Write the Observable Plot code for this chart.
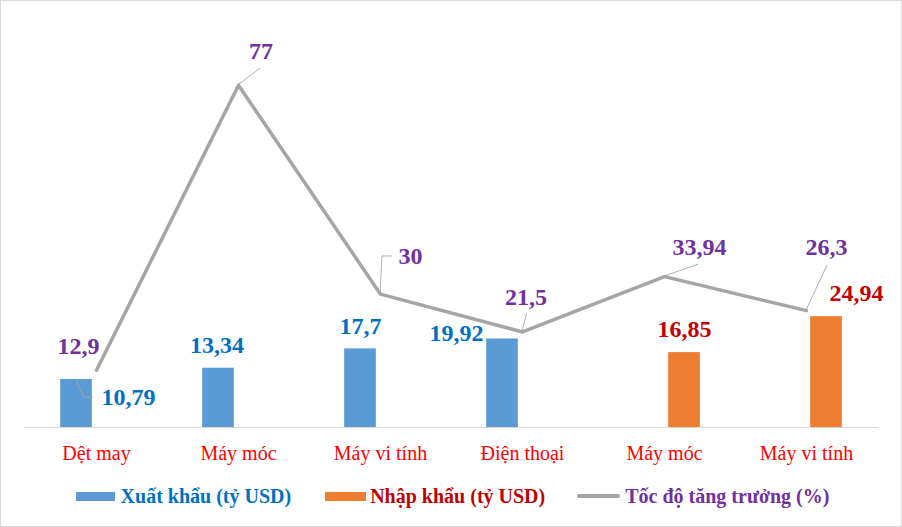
<!DOCTYPE html>
<html>
<head>
<meta charset="utf-8">
<script src="https://cdn.jsdelivr.net/npm/d3@7"></script>
<script src="https://cdn.jsdelivr.net/npm/@observablehq/plot@0.6"></script>
<style>
  body { margin: 0; background: #fff; }
  #chart { width: 900px; height: 525px; border: 1px solid #d9d9d9; font-family: "Liberation Serif", Tinos, "Times New Roman", "DejaVu Serif", serif; overflow: hidden; }
  #chart svg { display: block; }
  .legend { display: flex; justify-content: center; align-items: center; margin-top: 17px; height: 24px; line-height: 24px; font-weight: bold; font-size: 20px; padding-left: 3px; }
  .legend .item { display: flex; align-items: center; }
  .legend .sw { display: inline-block; }
</style>
</head>
<body>
<div id="chart"></div>
<script>
// ---- data ----
const categories = ["Dệt may", "Máy móc", "Máy vi tính", "Điện thoại", "Máy móc", "Máy vi tính"];
const exportValues = [10.79, 13.34, 17.7, 19.92, null, null];
const importValues = [null, null, null, null, 16.85, 24.94];
const growthValues = [12.9, 77, 30, 21.5, 33.94, 26.3];
const seriesNames = ["Xuất khẩu (tỷ USD)", "Nhập khẩu (tỷ USD)", "Tốc độ tăng trưởng (%)"];
const yDomain = [0, 90];

// ---- layout / style (not data) ----
const FONT = '"Liberation Serif", Tinos, "Times New Roman", "DejaVu Serif", serif';
const colors = { exp: "#5b9bd5", imp: "#ed7d31", line: "#a5a5a5" };
const textColors = { exp: "#0070c0", imp: "#c00000", line: "#7030a0", cat: "#ff0000" };
const W = 900, H = 466, mL = 23, mR = 23, mT = 26, mB = 40;
const BAR_W = 32, BAR_OFF = 20;
const bw = (W - mL - mR) / categories.length;
// label offsets [dx, dy] in px from the data point
const expLabelOff = [[52, 18], [-1.6, -22.4], [0, -23], [-46, -6], null, null];
const impLabelOff = [null, null, null, null, [0, -22.8], [30, -23]];
const growthLabelOff = [[-18, -24], [22.4, -33.5], [30, -37.4], [3.6, -35], [35, -29], [20, -63]];
// leader line vertices (px offsets from data point)
const leaders = [
  { series: "exp", i: 0, pts: [[0, 1], [8, 18], [17, 18]] },
  { series: "g", i: 1, pts: [[0, 0], [22.4, -16.8]] },
  { series: "g", i: 2, pts: [[0, 0], [2, -37.7], [12, -37.7]] },
  { series: "g", i: 3, pts: [[0, 0], [4.6, -18.4]] },
  { series: "g", i: 4, pts: [[0, 0], [34, -12]] },
  { series: "g", i: 5, pts: [[0, 0], [21, -45]] }
];

const rows = categories.map((c, i) => ({ i, cat: c, exp: exportValues[i], imp: importValues[i], g: growthValues[i] }));
const fmt = v => String(v).replace(".", ",");

const marks = [];
marks.push(Plot.ruleY([0], { stroke: "#d9d9d9", strokeWidth: 1.2 }));
marks.push(Plot.barY(rows.filter(d => d.exp != null), {
  x: "i", y: "exp", fill: colors.exp,
  insetLeft: bw / 2 - BAR_OFF - BAR_W / 2, insetRight: bw / 2 + BAR_OFF - BAR_W / 2
}));
marks.push(Plot.barY(rows.filter(d => d.imp != null), {
  x: "i", y: "imp", fill: colors.imp,
  insetLeft: bw / 2 + BAR_OFF - BAR_W / 2, insetRight: bw / 2 - BAR_OFF - BAR_W / 2
}));

// leader lines via the library's scales
marks.push((index, scales) => {
  const g = d3.create("svg:g").attr("fill", "none").attr("stroke", "#a6a6a6").attr("stroke-width", 0.9);
  const band = scales.x.bandwidth ? scales.x.bandwidth() : 0;
  for (const L of leaders) {
    const d = rows[L.i];
    const shift = L.series === "exp" ? -BAR_OFF : L.series === "imp" ? BAR_OFF : 0;
    const x0 = scales.x(d.i) + band / 2 + shift;
    const y0 = scales.y(d[L.series]);
    g.append("polyline").attr("points", L.pts.map(([dx, dy]) => `${x0 + dx},${y0 + dy}`).join(" "));
  }
  return g.node();
});

marks.push(Plot.line(rows, { x: "i", y: "g", stroke: colors.line, strokeWidth: 3.5, strokeLinejoin: "round" }));

const labelFont = { fontSize: 24, fontWeight: "bold", lineAnchor: "middle", fontFamily: FONT };
rows.forEach((d, k) => {
  if (d.exp != null) {
    const [dx, dy] = expLabelOff[k];
    marks.push(Plot.text([d], { x: "i", y: "exp", text: r => fmt(r.exp), dx: dx - BAR_OFF, dy, fill: textColors.exp, ...labelFont }));
  }
  if (d.imp != null) {
    const [dx, dy] = impLabelOff[k];
    marks.push(Plot.text([d], { x: "i", y: "imp", text: r => fmt(r.imp), dx: dx + BAR_OFF, dy, fill: textColors.imp, ...labelFont }));
  }
  const [gx, gy] = growthLabelOff[k];
  marks.push(Plot.text([d], { x: "i", y: "g", text: r => fmt(r.g), dx: gx, dy: gy, fill: textColors.line, ...labelFont }));
});

marks.push(Plot.text(rows, { x: "i", text: "cat", frameAnchor: "bottom", dy: 26, fill: textColors.cat, fontSize: 20, lineAnchor: "middle", fontFamily: FONT }));

const svg = Plot.plot({
  width: W, height: H,
  marginLeft: mL, marginRight: mR, marginTop: mT, marginBottom: mB,
  x: { type: "band", domain: d3.range(categories.length), padding: 0, axis: null },
  y: { domain: yDomain, axis: null },
  style: { fontFamily: FONT, background: "transparent", overflow: "visible" },
  marks
});
const chart = document.getElementById("chart");
chart.appendChild(svg);

// legend
const legend = document.createElement("div");
legend.className = "legend";
const legendSpec = [
  { name: seriesNames[0], sw: { w: 39, h: 9, c: colors.exp }, tc: textColors.exp, gap: 6, after: 34 },
  { name: seriesNames[1], sw: { w: 41, h: 9, c: colors.imp }, tc: textColors.imp, gap: 4, after: 32 },
  { name: seriesNames[2], sw: { w: 43, h: 4, c: colors.line }, tc: textColors.line, gap: 5, after: 0 }
];
for (const s of legendSpec) {
  const item = document.createElement("span");
  item.className = "item";
  item.style.marginRight = s.after + "px";
  const sw = document.createElement("span");
  sw.className = "sw";
  Object.assign(sw.style, { width: s.sw.w + "px", height: s.sw.h + "px", background: s.sw.c, marginRight: s.gap + "px", borderRadius: s.sw.h < 6 ? "2px" : "0" });
  const t = document.createElement("span");
  t.textContent = s.name;
  t.style.color = s.tc;
  item.appendChild(sw);
  item.appendChild(t);
  legend.appendChild(item);
}
chart.appendChild(legend);
</script>
</body>
</html>
